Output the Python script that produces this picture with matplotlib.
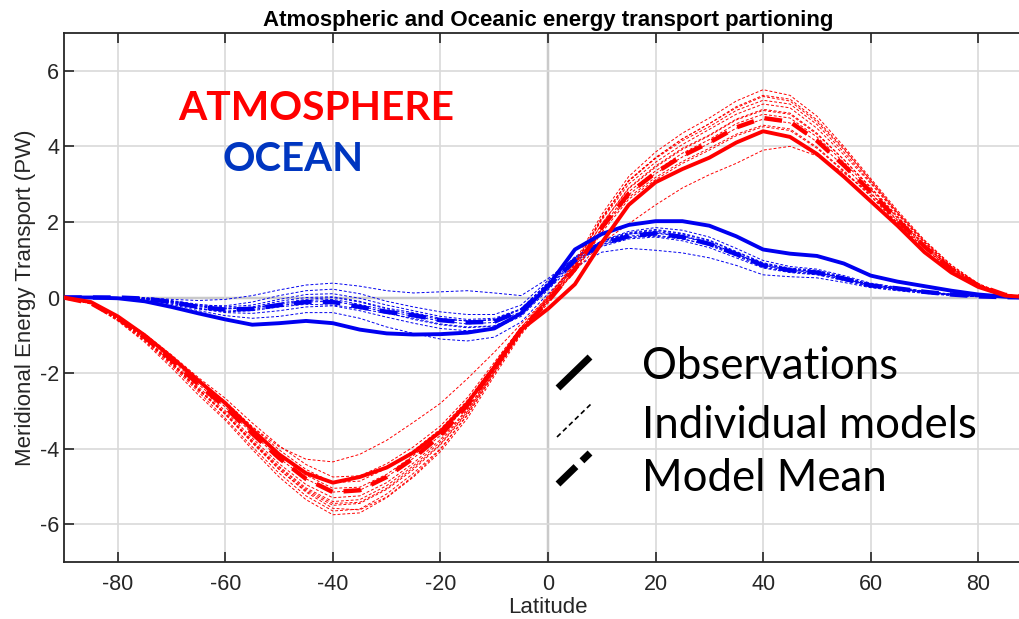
import numpy as np
import matplotlib
matplotlib.use('Agg')
import matplotlib.pyplot as plt
from matplotlib.lines import Line2D

# latitude grid (every 5 degrees)
lat = np.arange(-90, 91, 5)

# atmosphere
atm_obs = [0, -0.12, -0.5, -1.0, -1.58, -2.2, -2.8, -3.5, -4.15, -4.65, -4.9, -4.75, -4.5, -4.1, -3.55, -2.8,
           -1.85, -0.85, -0.3, 0.35, 1.45, 2.45, 3.05, 3.4, 3.7, 4.1, 4.4, 4.25, 3.8, 3.2, 2.55, 1.9, 1.2, 0.66,
           0.28, 0.05, 0]
atm_mean = [0, -0.15, -0.55, -1.05, -1.65, -2.3, -2.9, -3.6, -4.25, -4.8, -5.15, -5.1, -4.75, -4.25, -3.65,
            -2.85, -1.85, -0.85, -0.1, 0.75, 1.85, 2.75, 3.3, 3.75, 4.1, 4.5, 4.75, 4.65, 4.15, 3.5, 2.8, 2.05,
            1.35, 0.75, 0.32, 0.07, 0]
atm_models = [
    [0, -0.17, -0.6, -1.15, -1.8, -2.5, -3.2, -3.95, -4.65, -5.25, -5.65, -5.6, -5.2, -4.65, -4.0, -3.1, -2.0,
     -0.95, -0.1, 0.85, 2.1, 3.1, 3.7, 4.2, 4.6, 5.05, 5.35, 5.25, 4.7, 3.95, 3.1, 2.25, 1.5, 0.85, 0.36, 0.08, 0],
    [0, -0.16, -0.58, -1.12, -1.76, -2.45, -3.1, -3.85, -4.55, -5.12, -5.5, -5.45, -5.08, -4.55, -3.9, -3.05,
     -1.98, -0.9, 0.0, 0.95, 2.2, 3.2, 3.85, 4.35, 4.75, 5.2, 5.5, 5.35, 4.8, 4.0, 3.15, 2.3, 1.52, 0.86, 0.37,
     0.08, 0],
    [0, -0.15, -0.57, -1.08, -1.7, -2.37, -3.0, -3.72, -4.4, -4.95, -5.3, -5.25, -4.9, -4.38, -3.76, -2.95,
     -1.92, -0.88, -0.05, 0.8, 1.95, 2.9, 3.48, 3.95, 4.3, 4.72, 4.98, 4.88, 4.35, 3.65, 2.92, 2.15, 1.4, 0.78,
     0.33, 0.07, 0],
    [0, -0.14, -0.52, -1.0, -1.6, -2.22, -2.82, -3.5, -4.15, -4.7, -5.05, -5.02, -4.68, -4.18, -3.58, -2.78,
     -1.8, -0.82, -0.1, 0.72, 1.82, 2.72, 3.28, 3.72, 4.08, 4.48, 4.72, 4.62, 4.12, 3.48, 2.78, 2.02, 1.33,
     0.74, 0.31, 0.07, 0],
    [0, -0.17, -0.62, -1.18, -1.86, -2.58, -3.25, -4.02, -4.75, -5.35, -5.75, -5.7, -5.3, -4.75, -4.08, -3.2,
     -2.08, -0.98, -0.15, 0.7, 1.85, 2.8, 3.35, 3.82, 4.18, 4.6, 4.85, 4.75, 4.25, 3.58, 2.86, 2.1, 1.38, 0.77,
     0.33, 0.07, 0],
    [0, -0.14, -0.52, -0.99, -1.57, -2.18, -2.75, -3.42, -4.03, -4.55, -4.9, -4.86, -4.52, -4.05, -3.48, -2.72,
     -1.78, -0.8, 0.05, 0.88, 2.05, 3.0, 3.58, 4.05, 4.45, 4.85, 5.12, 5.02, 4.48, 3.78, 3.02, 2.2, 1.45, 0.8,
     0.34, 0.08, 0],
    [0, -0.16, -0.58, -1.1, -1.73, -2.42, -3.05, -3.78, -4.47, -5.04, -5.4, -5.35, -4.98, -4.45, -3.82, -2.98,
     -1.93, -0.88, -0.12, 0.68, 1.72, 2.6, 3.12, 3.55, 3.9, 4.28, 4.52, 4.42, 3.95, 3.33, 2.68, 1.96, 1.3, 0.72,
     0.31, 0.07, 0],
    [0, -0.15, -0.55, -1.08, -1.72, -2.42, -3.08, -3.82, -4.55, -5.15, -5.58, -5.62, -5.28, -4.72, -4.02,
     -3.12, -2.02, -0.92, -0.05, 0.9, 2.12, 3.08, 3.68, 4.15, 4.52, 4.95, 5.22, 5.12, 4.58, 3.85, 3.05, 2.22,
     1.46, 0.81, 0.35, 0.08, 0],
    [0, -0.15, -0.55, -1.05, -1.65, -2.3, -2.9, -3.6, -4.25, -4.8, -5.15, -5.1, -4.75, -4.25, -3.65, -2.85,
     -1.85, -0.85, -0.02, 0.82, 1.95, 2.88, 3.45, 3.92, 4.28, 4.7, 4.95, 4.85, 4.32, 3.65, 2.9, 2.12, 1.4, 0.78,
     0.33, 0.07, 0],
    [0, -0.13, -0.5, -0.96, -1.52, -2.12, -2.67, -3.32, -3.92, -4.42, -4.75, -4.72, -4.4, -3.95, -3.4, -2.65,
     -1.72, -0.78, -0.08, 0.72, 1.8, 2.65, 3.18, 3.6, 3.95, 4.32, 4.56, 4.46, 3.98, 3.36, 2.7, 1.98, 1.31, 0.73,
     0.31, 0.07, 0],
    [0, -0.16, -0.58, -1.1, -1.75, -2.44, -3.08, -3.82, -4.5, -5.08, -5.45, -5.42, -5.05, -4.5, -3.88, -3.02,
     -1.96, -0.9, 0.02, 0.88, 2.08, 3.08, 3.7, 4.2, 4.6, 5.02, 5.32, 5.2, 4.65, 3.92, 3.1, 2.25, 1.48, 0.82,
     0.35, 0.08, 0],
    [0, -0.14, -0.52, -1.0, -1.58, -2.2, -2.78, -3.42, -3.95, -4.28, -4.35, -4.15, -3.78, -3.3, -2.8, -2.15,
     -1.45, -0.7, 0.0, 0.7, 1.45, 1.95, 2.45, 2.9, 3.25, 3.55, 3.9, 4.0, 3.75, 3.3, 2.75, 2.05, 1.37, 0.77,
     0.33, 0.07, 0],
]

# ocean
ocn_obs = [0, 0, -0.02, -0.1, -0.25, -0.42, -0.58, -0.72, -0.68, -0.62, -0.68, -0.85, -0.95, -0.98, -0.97,
           -0.93, -0.82, -0.42, 0.3, 1.27, 1.68, 1.92, 2.02, 2.02, 1.9, 1.62, 1.27, 1.16, 1.1, 0.9, 0.58, 0.42,
           0.3, 0.18, 0.08, 0.02, 0]
ocn_mean = [0, 0, 0, -0.03, -0.12, -0.25, -0.32, -0.3, -0.2, -0.12, -0.12, -0.25, -0.38, -0.47, -0.6, -0.66,
            -0.64, -0.35, 0.3, 0.98, 1.42, 1.62, 1.7, 1.6, 1.42, 1.15, 0.85, 0.72, 0.66, 0.5, 0.32, 0.24, 0.15,
            0.08, 0.03, 0.01, 0]
ocn_models = [
    [0, 0, 0, 0.0, -0.05, -0.08, -0.05, 0.05, 0.2, 0.33, 0.38, 0.3, 0.18, 0.12, 0.15, 0.18, 0.12, 0.05, 0.5,
     1.05, 1.45, 1.6, 1.62, 1.55, 1.4, 1.15, 0.88, 0.75, 0.68, 0.52, 0.34, 0.25, 0.16, 0.08, 0.03, 0.01, 0],
    [0, 0, 0, -0.02, -0.1, -0.2, -0.22, -0.12, 0.05, 0.18, 0.22, 0.1, -0.1, -0.25, -0.38, -0.45, -0.45, -0.2,
     0.45, 1.05, 1.5, 1.75, 1.85, 1.78, 1.6, 1.3, 0.98, 0.82, 0.75, 0.58, 0.38, 0.27, 0.17, 0.09, 0.04, 0.01, 0],
    [0, 0, 0, -0.03, -0.12, -0.25, -0.3, -0.28, -0.18, -0.08, -0.05, -0.18, -0.35, -0.5, -0.62, -0.7, -0.66,
     -0.38, 0.32, 1.0, 1.45, 1.68, 1.75, 1.65, 1.45, 1.15, 0.86, 0.74, 0.68, 0.5, 0.32, 0.24, 0.15, 0.08, 0.03,
     0.01, 0],
    [0, 0, 0, -0.04, -0.15, -0.3, -0.4, -0.42, -0.35, -0.25, -0.22, -0.35, -0.52, -0.68, -0.82, -0.88, -0.82,
     -0.5, 0.2, 0.9, 1.35, 1.55, 1.6, 1.5, 1.32, 1.05, 0.78, 0.66, 0.6, 0.45, 0.28, 0.2, 0.12, 0.06, 0.02, 0.0, 0],
    [0, 0, 0, -0.05, -0.18, -0.35, -0.48, -0.55, -0.5, -0.4, -0.4, -0.55, -0.78, -0.95, -1.1, -1.15, -1.05,
     -0.65, 0.1, 0.8, 1.2, 1.3, 1.25, 1.18, 1.05, 0.85, 0.6, 0.55, 0.52, 0.4, 0.26, 0.18, 0.11, 0.05, 0.02, 0.0, 0],
    [0, 0, 0, -0.02, -0.08, -0.18, -0.25, -0.2, -0.05, 0.08, 0.1, -0.02, -0.2, -0.35, -0.5, -0.58, -0.55, -0.3,
     0.38, 1.05, 1.5, 1.72, 1.8, 1.7, 1.52, 1.22, 0.92, 0.78, 0.72, 0.55, 0.35, 0.26, 0.16, 0.08, 0.03, 0.01, 0],
    [0, 0, 0, -0.03, -0.12, -0.28, -0.38, -0.35, -0.25, -0.18, -0.2, -0.3, -0.42, -0.55, -0.7, -0.78, -0.75,
     -0.45, 0.25, 0.95, 1.38, 1.58, 1.65, 1.55, 1.38, 1.1, 0.8, 0.68, 0.62, 0.48, 0.3, 0.22, 0.14, 0.07, 0.03,
     0.0, 0],
    [0, 0, 0, -0.02, -0.1, -0.22, -0.28, -0.25, -0.1, 0.0, 0.02, -0.1, -0.28, -0.4, -0.55, -0.62, -0.6, -0.32,
     0.35, 1.02, 1.48, 1.7, 1.78, 1.68, 1.5, 1.2, 0.9, 0.76, 0.7, 0.53, 0.34, 0.25, 0.16, 0.08, 0.03, 0.01, 0],
    [0, 0, 0, -0.04, -0.14, -0.3, -0.36, -0.32, -0.22, -0.12, -0.1, -0.22, -0.4, -0.58, -0.72, -0.8, -0.76,
     -0.45, 0.28, 0.98, 1.4, 1.62, 1.7, 1.62, 1.45, 1.16, 0.86, 0.72, 0.66, 0.5, 0.32, 0.23, 0.14, 0.07, 0.03,
     0.0, 0],
    [0, 0, 0, -0.03, -0.1, -0.22, -0.3, -0.28, -0.15, -0.05, 0.0, -0.12, -0.3, -0.45, -0.58, -0.62, -0.58, -0.3,
     0.4, 1.08, 1.5, 1.68, 1.72, 1.62, 1.42, 1.12, 0.84, 0.7, 0.64, 0.48, 0.3, 0.22, 0.14, 0.07, 0.03, 0.0, 0],
]

xticks = [-80, -60, -40, -20, 0, 20, 40, 60, 80]
yticks = [-6, -4, -2, 0, 2, 4, 6]

RED = '#FF0000'
BLUE = '#0000F0'
DARK = '#262626'

plt.rcParams['font.family'] = ['Liberation Sans', 'DejaVu Sans']
plt.rcParams['axes.unicode_minus'] = False

W, H = 1019, 619
fig = plt.figure(figsize=(W / 100, H / 100), dpi=100)
ax = fig.add_axes([64 / W, 57 / H, (1032 - 64) / W, (562 - 33) / H])

ax.grid(True, color='#d9d9d9', lw=1.2, zorder=0)
ax.axhline(0, color='#808080', lw=1.6, zorder=1)
ax.axvline(0, color='#808080', lw=1.6, zorder=1)

for m in ocn_models:
    ax.plot(lat, m, color=BLUE, lw=0.7, ls=(0, (3, 2)), zorder=2)
for m in atm_models:
    ax.plot(lat, m, color=RED, lw=0.7, ls=(0, (3, 2)), zorder=2)
ax.plot(lat, ocn_mean, color=BLUE, lw=3.2, ls=(0, (4, 2.5)), zorder=3)
ax.plot(lat, atm_mean, color=RED, lw=3.2, ls=(0, (4, 2.5)), zorder=3)
ax.plot(lat, ocn_obs, color=BLUE, lw=2.8, zorder=4)
ax.plot(lat, atm_obs, color=RED, lw=2.8, zorder=4)

ax.set_xlim(-90, 90)
ax.set_ylim(-7, 7)
ax.set_xticks(xticks)
ax.set_yticks(yticks)
ax.tick_params(direction='in', length=7, width=1.2, colors=DARK, labelsize=15.5, top=True,
               labelcolor=DARK)
ax.tick_params(axis='x', pad=9)
for s in ['left', 'top', 'bottom']:
    ax.spines[s].set_color(DARK)
    ax.spines[s].set_linewidth(1.3)

ax.set_title('Atmospheric and Oceanic energy transport partioning', fontsize=16, fontweight='bold',
             pad=5)
ax.set_xlabel('Latitude', fontsize=16, color=DARK, labelpad=1)
ax.set_ylabel('Meridional Energy Transport (PW)', fontsize=16, color=DARK, labelpad=3)

# labels inside the plot
fig.text(178 / W, 1 - 120 / H, 'ATMOSPHERE', color=RED, fontsize=29.3, fontweight='bold', family='Lato')
fig.text(222 / W, 1 - 171 / H, 'OCEAN', color='#0036C0', fontsize=29, fontweight='bold', family='Lato')

# hand-made legend
def seg(x0, y0, x1, y1, **kw):
    fig.add_artist(Line2D([x0 / W, x1 / W], [1 - y0 / H, 1 - y1 / H], color='black', **kw))

seg(558, 388, 590, 357, lw=5, solid_capstyle='butt')
seg(557, 437, 591, 404, lw=1.2, ls=(0, (3, 2)))
seg(558, 484, 590, 453, lw=5, ls=(0, (3.6, 1.2)), dash_capstyle='butt')

fig.text(642 / W, 1 - 379 / H, 'Observations', fontsize=31.5, family='Lato')
fig.text(642 / W, 1 - 438 / H, 'Individual models', fontsize=31.5, family='Lato')
fig.text(642 / W, 1 - 491 / H, 'Model Mean', fontsize=31.5, family='Lato')

fig.savefig('out.png', dpi=100)
